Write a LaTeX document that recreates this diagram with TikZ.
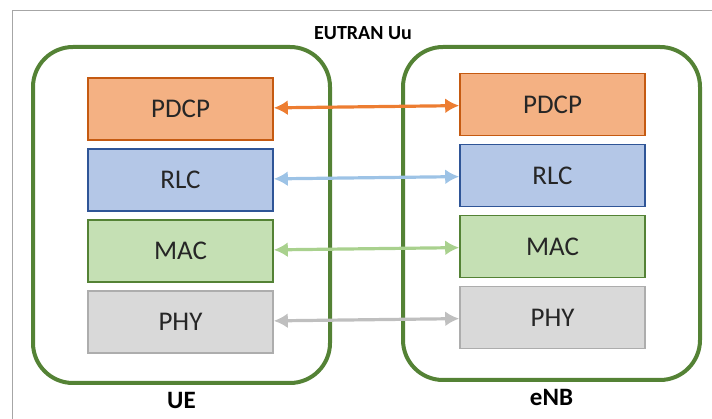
\documentclass[tikz,border=0pt]{standalone}
\usepackage{fontspec}
\setmainfont{Carlito}
\usepackage{tikz}
\usetikzlibrary{arrows.meta,%
                shapes,positioning}
\definecolor{pdcpfill}{HTML}{F4B183}
\definecolor{pdcpline}{HTML}{C55A11}
\definecolor{pdcparrow}{HTML}{ED7D31}
\definecolor{rlcfill}{HTML}{B4C7E7}
\definecolor{rlcline}{HTML}{2F5597}
\definecolor{rlcarrow}{HTML}{9DC3E6}
\definecolor{macfill}{HTML}{C5E0B4}
\definecolor{macline}{HTML}{548235}
\definecolor{macarrow}{HTML}{A9D18E}
\definecolor{phyfill}{HTML}{D9D9D9}
\definecolor{phyline}{HTML}{ADADAD}
\definecolor{phyarrow}{HTML}{BFBFBF}
\definecolor{framegray}{HTML}{A6A6A6}

\begin{document}
\begin{tikzpicture}[x = 1pt, y = -1pt, node distance = 7.4pt]
  \useasboundingbox (0,0) rectangle (712,419);
  \clip (0,0) rectangle (712,419);
  \tikzset{LayerStyle/.style   = {shape          = rectangle,
                                  line width     = 1.6pt,
                                  text           = black!85,
                                  font           = \fontsize{27}{32}\selectfont,
                                  inner sep      = 0pt,
                                  minimum width  = 185pt,
                                  minimum height = 62pt}}
  \tikzset{EntityStyle/.style  = {shape          = rectangle,
                                  rounded corners = 40pt,
                                  draw           = macline,
                                  line width     = 4pt,
                                  minimum width  = 297pt}}
  \tikzset{LinkStyle/.style    = {line width     = 3.2pt,
                                  {Latex[length=14pt,width=15pt]}-{Latex[length=14pt,width=15pt]}}}
  \tikzset{TitleStyle/.style   = {font = \bfseries\fontsize{25}{30}\selectfont}}
  \tikzset{PDCPStyle/.style = {LayerStyle, fill = pdcpfill, draw = pdcpline}}
  \tikzset{RLCStyle/.style  = {LayerStyle, fill = rlcfill,  draw = rlcline}}
  \tikzset{MACStyle/.style  = {LayerStyle, fill = macfill,  draw = macline}}
  \tikzset{PHYStyle/.style  = {LayerStyle, fill = phyfill,  draw = phyline}}
  % frame
  \draw[framegray, line width = 1pt] (12,11) rectangle (730,440);
  % the two entities
  \node[EntityStyle, minimum height = 336pt] (UEBox)  at (181.5,215) {};
  \node[EntityStyle, minimum height = 333pt] (ENBBox) at (551.5,213.5) {};
  \node[TitleStyle, below = 4pt of UEBox]  (UE)  {UE};
  \node[TitleStyle, below = 4pt of ENBBox] (ENB) {eNB};
  \node[font = \bfseries\fontsize{20}{24}\selectfont] (Uu) at (363,33) {EUTRAN Uu};
  % UE stack
  \node[PDCPStyle] (PDCPa) at (180.5,109) {PDCP};
  \node[RLCStyle, below = of PDCPa] (RLCa) {RLC};
  \node[MACStyle, below = of RLCa]  (MACa) {MAC};
  \node[PHYStyle, below = of MACa]  (PHYa) {PHY};
  % eNB stack
  \node[PDCPStyle] (PDCPb) at (552.5,104.5) {PDCP};
  \node[RLCStyle, below = of PDCPb] (RLCb) {RLC};
  \node[MACStyle, below = of RLCb]  (MACb) {MAC};
  \node[PHYStyle, below = of MACb]  (PHYb) {PHY};
  % peer links
  \draw[LinkStyle, pdcparrow] (PDCPa) -- (PDCPb);
  \draw[LinkStyle, rlcarrow]  (RLCa)  -- (RLCb);
  \draw[LinkStyle, macarrow]  (MACa)  -- (MACb);
  \draw[LinkStyle, phyarrow]  (PHYa)  -- (PHYb);
\end{tikzpicture}
\end{document}
